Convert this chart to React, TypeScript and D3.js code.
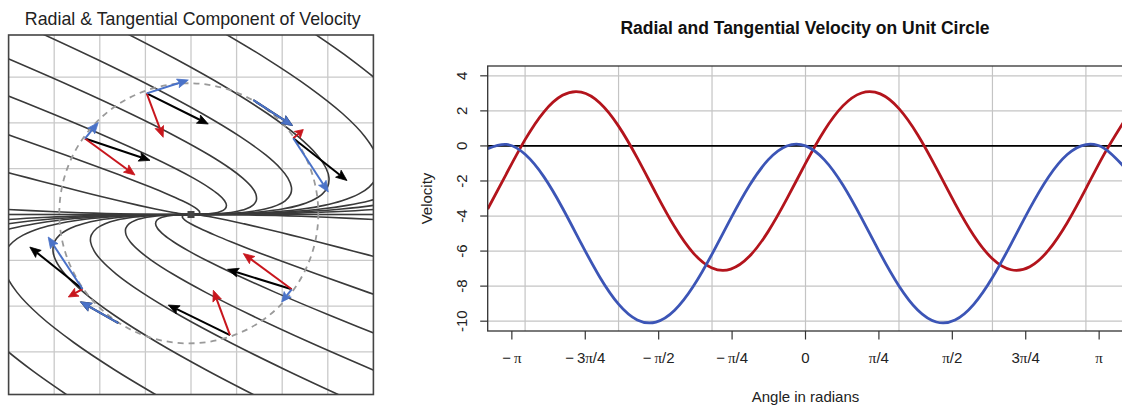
import React from "react";
import * as d3 from "d3";

// ---------------- Left panel data (grid units, centre = origin) ----------------
const leftGrid = [-3, -2, -1, 0, 1, 2, 3];

const streamU1 = [[0, 0], [-1.27, 0.01], [-2.13, 0.03], [-2.98, 0.06], [-4.21, 0.12]];
const streamU2 = [[0, 0], [-0.157, 0.01], [-0.303, 0.03], [-0.478, 0.06], [-0.78, 0.12], [-1.148, 0.2], [-1.58, 0.3], [-2.196, 0.45], [-2.793, 0.6], [-3.57, 0.8], [-4.333, 1.0]];
const streamU3 = [[0, 0], [0.14, 0.01], [0.184, 0.03], [0.189, 0.06], [0.134, 0.12], [0.007, 0.2], [-0.19, 0.3], [-0.526, 0.45], [-0.89, 0.6], [-1.402, 0.8], [-1.933, 1.0], [-2.756, 1.3], [-3.885, 1.7], [-5.33, 2.2]];
const streamU4 = [[0, 0], [0.337, 0.01], [0.509, 0.03], [0.634, 0.06], [0.745, 0.12], [0.777, 0.2], [0.736, 0.3], [0.587, 0.45], [0.378, 0.6], [0.044, 0.8], [-0.333, 1.0], [-0.953, 1.3], [-1.849, 1.7], [-3.04, 2.2], [-4.54, 2.8]];
const streamU5 = [[0, 0], [0.485, 0.01], [0.753, 0.03], [0.968, 0.06], [1.202, 0.12], [1.354, 0.2], [1.43, 0.3], [1.422, 0.45], [1.33, 0.6], [1.128, 0.8], [0.867, 1.0], [0.399, 1.3], [-0.321, 1.7], [-1.323, 2.2], [-2.626, 2.8], [-4.008, 3.4]];
const streamU6 = [[0, 0], [0.62, 0.01], [0.976, 0.03], [1.273, 0.06], [1.622, 0.12], [1.883, 0.2], [2.066, 0.3], [2.187, 0.45], [2.202, 0.6], [2.122, 0.8], [1.967, 1.0], [1.639, 1.3], [1.079, 1.7], [0.251, 2.2], [-0.87, 2.8], [-2.089, 3.4], [-3.38, 4.0]];
const streamU7 = [[0, 0], [0.744, 0.01], [1.179, 0.03], [1.551, 0.06], [2.003, 0.12], [2.365, 0.2], [2.645, 0.3], [2.883, 0.45], [2.995, 0.6], [3.026, 0.8], [2.967, 1.0], [2.765, 1.3], [2.352, 1.7], [1.682, 2.2], [0.727, 2.8], [-0.345, 3.4], [-1.502, 4.0]];
const streamU8 = [[0, 0], [0.886, 0.01], [1.412, 0.03], [1.871, 0.06], [2.442, 0.12], [2.918, 0.2], [3.31, 0.3], [3.683, 0.45], [3.906, 0.6], [4.065, 0.8], [4.117, 1.0], [4.061, 1.3], [3.815, 1.7], [3.328, 2.2], [2.563, 2.8], [1.661, 3.4], [0.658, 4.0]];
const streamU9 = [[0, 0], [1.015, 0.01], [1.626, 0.03], [2.163, 0.06], [2.843, 0.12], [3.423, 0.2], [3.917, 0.3], [4.413, 0.45], [4.739, 0.6], [5.014, 0.8], [5.167, 1.0], [5.244, 1.3], [5.152, 1.7], [4.831, 2.2], [4.24, 2.8], [3.492, 3.4], [2.63, 4.0]];
const streamU10 = [[0, 0], [1.163, 0.01], [1.869, 0.03], [2.497, 0.06], [3.3, 0.12], [4.001, 0.2], [4.611, 0.3], [5.248, 0.45]];
const streamU11 = [[0, 0], [1.447, 0.01], [2.336, 0.03], [3.136, 0.06], [4.178, 0.12], [5.107, 0.2]];

const streamL1 = [[0, 0], [1.27, -0.01], [2.13, -0.03], [2.98, -0.06], [4.21, -0.12]];
const streamL2 = [[0, 0], [0.157, -0.01], [0.303, -0.03], [0.478, -0.06], [0.78, -0.12], [1.148, -0.2], [1.58, -0.3], [2.196, -0.45], [2.793, -0.6], [3.57, -0.8], [4.333, -1.0]];
const streamL3 = [[0, 0], [-0.14, -0.01], [-0.184, -0.03], [-0.189, -0.06], [-0.134, -0.12], [-0.007, -0.2], [0.19, -0.3], [0.526, -0.45], [0.89, -0.6], [1.402, -0.8], [1.933, -1.0], [2.756, -1.3], [3.885, -1.7], [5.33, -2.2]];
const streamL4 = [[0, 0], [-0.337, -0.01], [-0.509, -0.03], [-0.634, -0.06], [-0.745, -0.12], [-0.777, -0.2], [-0.736, -0.3], [-0.587, -0.45], [-0.378, -0.6], [-0.044, -0.8], [0.333, -1.0], [0.953, -1.3], [1.849, -1.7], [3.04, -2.2], [4.54, -2.8]];
const streamL5 = [[0, 0], [-0.485, -0.01], [-0.753, -0.03], [-0.968, -0.06], [-1.202, -0.12], [-1.354, -0.2], [-1.43, -0.3], [-1.422, -0.45], [-1.33, -0.6], [-1.128, -0.8], [-0.867, -1.0], [-0.399, -1.3], [0.321, -1.7], [1.323, -2.2], [2.626, -2.8], [4.008, -3.4]];
const streamL6 = [[0, 0], [-0.62, -0.01], [-0.976, -0.03], [-1.273, -0.06], [-1.622, -0.12], [-1.883, -0.2], [-2.066, -0.3], [-2.187, -0.45], [-2.202, -0.6], [-2.122, -0.8], [-1.967, -1.0], [-1.639, -1.3], [-1.079, -1.7], [-0.251, -2.2], [0.87, -2.8], [2.089, -3.4], [3.38, -4.0]];
const streamL7 = [[0, 0], [-0.744, -0.01], [-1.179, -0.03], [-1.551, -0.06], [-2.003, -0.12], [-2.365, -0.2], [-2.645, -0.3], [-2.883, -0.45], [-2.995, -0.6], [-3.026, -0.8], [-2.967, -1.0], [-2.765, -1.3], [-2.352, -1.7], [-1.682, -2.2], [-0.727, -2.8], [0.345, -3.4], [1.502, -4.0]];
const streamL8 = [[0, 0], [-0.886, -0.01], [-1.412, -0.03], [-1.871, -0.06], [-2.442, -0.12], [-2.918, -0.2], [-3.31, -0.3], [-3.683, -0.45], [-3.906, -0.6], [-4.065, -0.8], [-4.117, -1.0], [-4.061, -1.3], [-3.815, -1.7], [-3.328, -2.2], [-2.563, -2.8], [-1.661, -3.4], [-0.658, -4.0]];
const streamL9 = [[0, 0], [-1.015, -0.01], [-1.626, -0.03], [-2.163, -0.06], [-2.843, -0.12], [-3.423, -0.2], [-3.917, -0.3], [-4.413, -0.45], [-4.739, -0.6], [-5.014, -0.8], [-5.167, -1.0], [-5.244, -1.3], [-5.152, -1.7], [-4.831, -2.2], [-4.24, -2.8], [-3.492, -3.4], [-2.63, -4.0]];
const streamL10 = [[0, 0], [-1.163, -0.01], [-1.869, -0.03], [-2.497, -0.06], [-3.3, -0.12], [-4.001, -0.2], [-4.611, -0.3], [-5.248, -0.45]];
const streamL11 = [[0, 0], [-1.447, -0.01], [-2.336, -0.03], [-3.136, -0.06], [-4.178, -0.12], [-5.107, -0.2]];
const streamAxis = [[-4.4, 0], [4.4, 0]];

const streamlines = [
  streamU1, streamU2, streamU3, streamU4, streamU5, streamU6, streamU7, streamU8, streamU9, streamU10, streamU11,
  streamL1, streamL2, streamL3, streamL4, streamL5, streamL6, streamL7, streamL8, streamL9, streamL10, streamL11,
  streamAxis,
];

const circleCenter = [-0.048, 0.026];
const circleRadius = 2.84;

const arrowBase = [[-0.971, 2.646], [-2.325, 1.659], [1.366, 2.5], [2.243, 1.664], [-2.379, -1.627], [-1.594, -2.369], [2.208, -1.633], [0.855, -2.635]];
const velocityTip = [[0.379, 1.976], [-0.899, 1.183], [2.226, 1.943], [3.421, 0.742], [-3.535, -0.71], [-2.423, -1.906], [0.8, -1.197], [-0.498, -1.976]];
const radialTip = [[-0.61, 1.686], [-1.228, 0.862], null, [2.463, 1.856], [-2.691, -1.801], null, [1.147, -0.852], [0.489, -1.653]];
const tangentialTip = [[-0.059, 2.937], [-2.035, 2.009], [2.226, 1.943], [3.011, 0.491], [-3.132, -0.491], [-2.423, -1.906], [1.989, -1.91], null];

// ---------------- Right panel data ----------------
const angles = [-3.4, -3.2, -3.0, -2.8, -2.6, -2.4, -2.2, -2.0, -1.8, -1.6, -1.4, -1.2, -1.0, -0.8, -0.6, -0.4, -0.2, 0, 0.2, 0.4, 0.6, 0.8, 1.0, 1.2, 1.4, 1.6, 1.8, 2.0, 2.2, 2.4, 2.6, 2.8, 3.0, 3.2, 3.4];
const radialVelocity = [-3.601, -1.59, 0.357, 1.933, 2.887, 3.069, 2.451, 1.13, -0.684, -2.706, -4.617, -6.115, -6.962, -7.027, -6.298, -4.89, -3.026, -1.0, 0.868, 2.284, 3.022, 2.969, 2.13, 0.641, -1.267, -3.29, -5.11, -6.438, -7.065, -6.893, -5.949, -4.381, -2.437, -0.424, 1.339];
const tangentialVelocity = [-0.159, 0.083, -0.478, -1.753, -3.541, -5.558, -7.489, -9.025, -9.927, -10.049, -9.376, -8.011, -6.172, -4.146, -2.256, -0.799, -0.006, 0, -0.784, -2.233, -4.12, -6.146, -7.99, -9.363, -10.046, -9.933, -9.041, -7.511, -5.585, -3.566, -1.773, -0.491, 0.08, -0.151, -1.147];
const xTickValues = [-Math.PI, -3 * Math.PI / 4, -Math.PI / 2, -Math.PI / 4, 0, Math.PI / 4, Math.PI / 2, 3 * Math.PI / 4, Math.PI];
const xTickLabels = ["\u2212\u2009π", "\u2212\u20093π/4", "\u2212\u2009π/2", "\u2212\u2009π/4", "0", "π/4", "π/2", "3π/4", "π"];
const yTickValues = [-10, -8, -6, -4, -2, 0, 2, 4];
const xGridValues = [-3, -2, -1, 0, 1, 2, 3];

const FONT = "Liberation Sans, Arial, Helvetica, sans-serif";

function piLabel(label: string) {
  const parts = label.split("π");
  const out: any[] = [];
  parts.forEach((p, i) => {
    if (p) out.push(<tspan key={"t" + i}>{p}</tspan>);
    if (i < parts.length - 1)
      out.push(
        <tspan key={"p" + i} fontFamily="Liberation Serif, Times New Roman, serif">
          π
        </tspan>
      );
  });
  return out;
}

function Arrow({ x1, y1, x2, y2, color }: { x1: number; y1: number; x2: number; y2: number; color: string }) {
  const dx = x2 - x1;
  const dy = y2 - y1;
  const len = Math.sqrt(dx * dx + dy * dy);
  if (len < 1) return null;
  const ux = dx / len;
  const uy = dy / len;
  const hl = Math.min(11, len * 0.6);
  const hw = 4.5;
  const bx = x2 - ux * hl;
  const by = y2 - uy * hl;
  const pts = [
    [x2, y2],
    [bx - uy * hw, by + ux * hw],
    [bx + ux * 2, by + uy * 2],
    [bx + uy * hw, by - ux * hw],
  ];
  return (
    <g>
      <line x1={x1} y1={y1} x2={bx + ux * 2} y2={by + uy * 2} stroke={color} strokeWidth={2} />
      <polygon points={pts.map((p) => p.join(",")).join(" ")} fill={color} stroke={color} strokeWidth={0.8} strokeLinejoin="round" />
    </g>
  );
}

export default function App() {
  // ---- left scales
  const xL = d3.scaleLinear().domain([-4, 4]).range([8.6, 373.4]);
  const yL = d3.scaleLinear().domain([-3.93, 3.92]).range([394.5, 35]);
  const streamLine = d3
    .line<number[]>()
    .x((d) => xL(d[0]))
    .y((d) => yL(d[1]))
    .curve(d3.curveCatmullRom.alpha(0.5));

  // ---- right scales
  const xR = d3.scaleLinear().domain([-3.4, 3.4]).range([487.7, 1123.3]);
  const yR = d3.scaleLinear().domain([-10.56, 4.56]).range([331, 66]);
  const velLine = (vals: number[]) =>
    d3
      .line<number>()
      .x((_, i) => xR(angles[i]))
      .y((d) => yR(d))
      .curve(d3.curveNatural)(vals) || "";

  const red = "#b3141c";
  const blue = "#3c55b6";
  const black = "#000000";
  const arrowRed = "#c8161d";
  const arrowBlue = "#4a72c8";

  return (
    <div style={{ position: "absolute", left: 0, top: 0 }}>
      <svg width={1122} height={409} viewBox="0 0 1122 409" style={{ display: "block", background: "#fff" }}>
        <defs>
          <clipPath id="leftClip">
            <rect x={xL(-4)} y={yL(3.92)} width={xL(4) - xL(-4)} height={yL(-3.93) - yL(3.92)} />
          </clipPath>
          <clipPath id="rightClip">
            <rect x={xR(-3.4)} y={yR(4.56)} width={xR(3.4) - xR(-3.4)} height={yR(-10.56) - yR(4.56)} />
          </clipPath>
        </defs>

        {/* ================= LEFT PANEL ================= */}
        <text x={192.7} y={24.5} textAnchor="middle" fontFamily={FONT} fontSize={17.8} fill="#222">
          Radial &amp; Tangential Component of Velocity
        </text>
        <g>
          {leftGrid.map((g) => (
            <line key={"gx" + g} x1={xL(g)} x2={xL(g)} y1={yL(3.92)} y2={yL(-3.93)} stroke="#c9c9c9" strokeWidth={1.3} />
          ))}
          {leftGrid.map((g) => (
            <line key={"gy" + g} x1={xL(-4)} x2={xL(4)} y1={yL(g)} y2={yL(g)} stroke="#c9c9c9" strokeWidth={1.3} />
          ))}
        </g>
        <g clipPath="url(#leftClip)">
          {streamlines.map((s, i) => (
            <path key={"s" + i} d={streamLine(s) || ""} fill="none" stroke="#3a3a3a" strokeWidth={1.6} />
          ))}
          <ellipse
            cx={xL(circleCenter[0])}
            cy={yL(circleCenter[1])}
            rx={xL(circleRadius) - xL(0)}
            ry={yL(0) - yL(circleRadius)}
            fill="none"
            stroke="#9a9a9a"
            strokeWidth={1.8}
            strokeDasharray="6 5"
          />
          <rect x={xL(0) - 3.5} y={yL(0) - 3.5} width={7} height={7} fill="#444" />
          {arrowBase.map((b, i) => (
            <g key={"a" + i}>
              {velocityTip[i] && (
                <Arrow x1={xL(b[0])} y1={yL(b[1])} x2={xL(velocityTip[i]![0])} y2={yL(velocityTip[i]![1])} color={black} />
              )}
              {radialTip[i] && (
                <Arrow x1={xL(b[0])} y1={yL(b[1])} x2={xL(radialTip[i]![0])} y2={yL(radialTip[i]![1])} color={arrowRed} />
              )}
              {tangentialTip[i] && (
                <Arrow x1={xL(b[0])} y1={yL(b[1])} x2={xL(tangentialTip[i]![0])} y2={yL(tangentialTip[i]![1])} color={arrowBlue} />
              )}
            </g>
          ))}
        </g>
        <rect
          x={xL(-4)}
          y={yL(3.92)}
          width={xL(4) - xL(-4)}
          height={yL(-3.93) - yL(3.92)}
          fill="none"
          stroke="#444"
          strokeWidth={1.6}
        />

        {/* ================= RIGHT PANEL ================= */}
        <text x={805} y={33.5} textAnchor="middle" fontFamily={FONT} fontSize={17.5} fontWeight="bold" fill="#111">
          Radial and Tangential Velocity on Unit Circle
        </text>
        <g>
          {xGridValues.map((g) => (
            <line key={"rgx" + g} x1={xR(g)} x2={xR(g)} y1={yR(4.56)} y2={yR(-10.56)} stroke="#c4c4c4" strokeWidth={1.2} />
          ))}
          {yTickValues.map((g) => (
            <line key={"rgy" + g} x1={xR(-3.4)} x2={xR(3.4)} y1={yR(g)} y2={yR(g)} stroke="#c4c4c4" strokeWidth={1.2} />
          ))}
        </g>
        <line x1={xR(-3.4)} x2={xR(3.4)} y1={yR(0)} y2={yR(0)} stroke="#000" strokeWidth={1.8} />
        <g clipPath="url(#rightClip)">
          <path d={velLine(radialVelocity)} fill="none" stroke={red} strokeWidth={2.8} strokeLinejoin="round" />
          <path d={velLine(tangentialVelocity)} fill="none" stroke={blue} strokeWidth={2.8} strokeLinejoin="round" />
        </g>
        <rect
          x={xR(-3.4)}
          y={yR(4.56)}
          width={xR(3.4) - xR(-3.4)}
          height={yR(-10.56) - yR(4.56)}
          fill="none"
          stroke="#333"
          strokeWidth={1.3}
        />
        {/* y axis */}
        <g fontFamily={FONT} fontSize={15} fill="#222">
          {yTickValues.map((v) => (
            <g key={"yt" + v}>
              <line x1={xR(-3.4) - 7.5} x2={xR(-3.4)} y1={yR(v)} y2={yR(v)} stroke="#333" strokeWidth={1.2} />
              <text transform={`translate(467,${yR(v)}) rotate(-90)`} textAnchor="middle">
                {String(v)}
              </text>
            </g>
          ))}
          <text transform={`translate(432,${yR(-3)}) rotate(-90)`} textAnchor="middle">
            Velocity
          </text>
        </g>
        {/* x axis */}
        <g fontFamily={FONT} fontSize={15} fill="#222">
          {xTickValues.map((v, i) => (
            <g key={"xt" + i}>
              <line x1={xR(v)} x2={xR(v)} y1={yR(-10.56)} y2={yR(-10.56) + 8.5} stroke="#333" strokeWidth={1.2} />
              <text x={xR(v)} y={363} textAnchor="middle">
                {piLabel(xTickLabels[i])}
              </text>
            </g>
          ))}
          <text x={805.5} y={402} textAnchor="middle">
            Angle in radians
          </text>
        </g>
      </svg>
    </div>
  );
}
